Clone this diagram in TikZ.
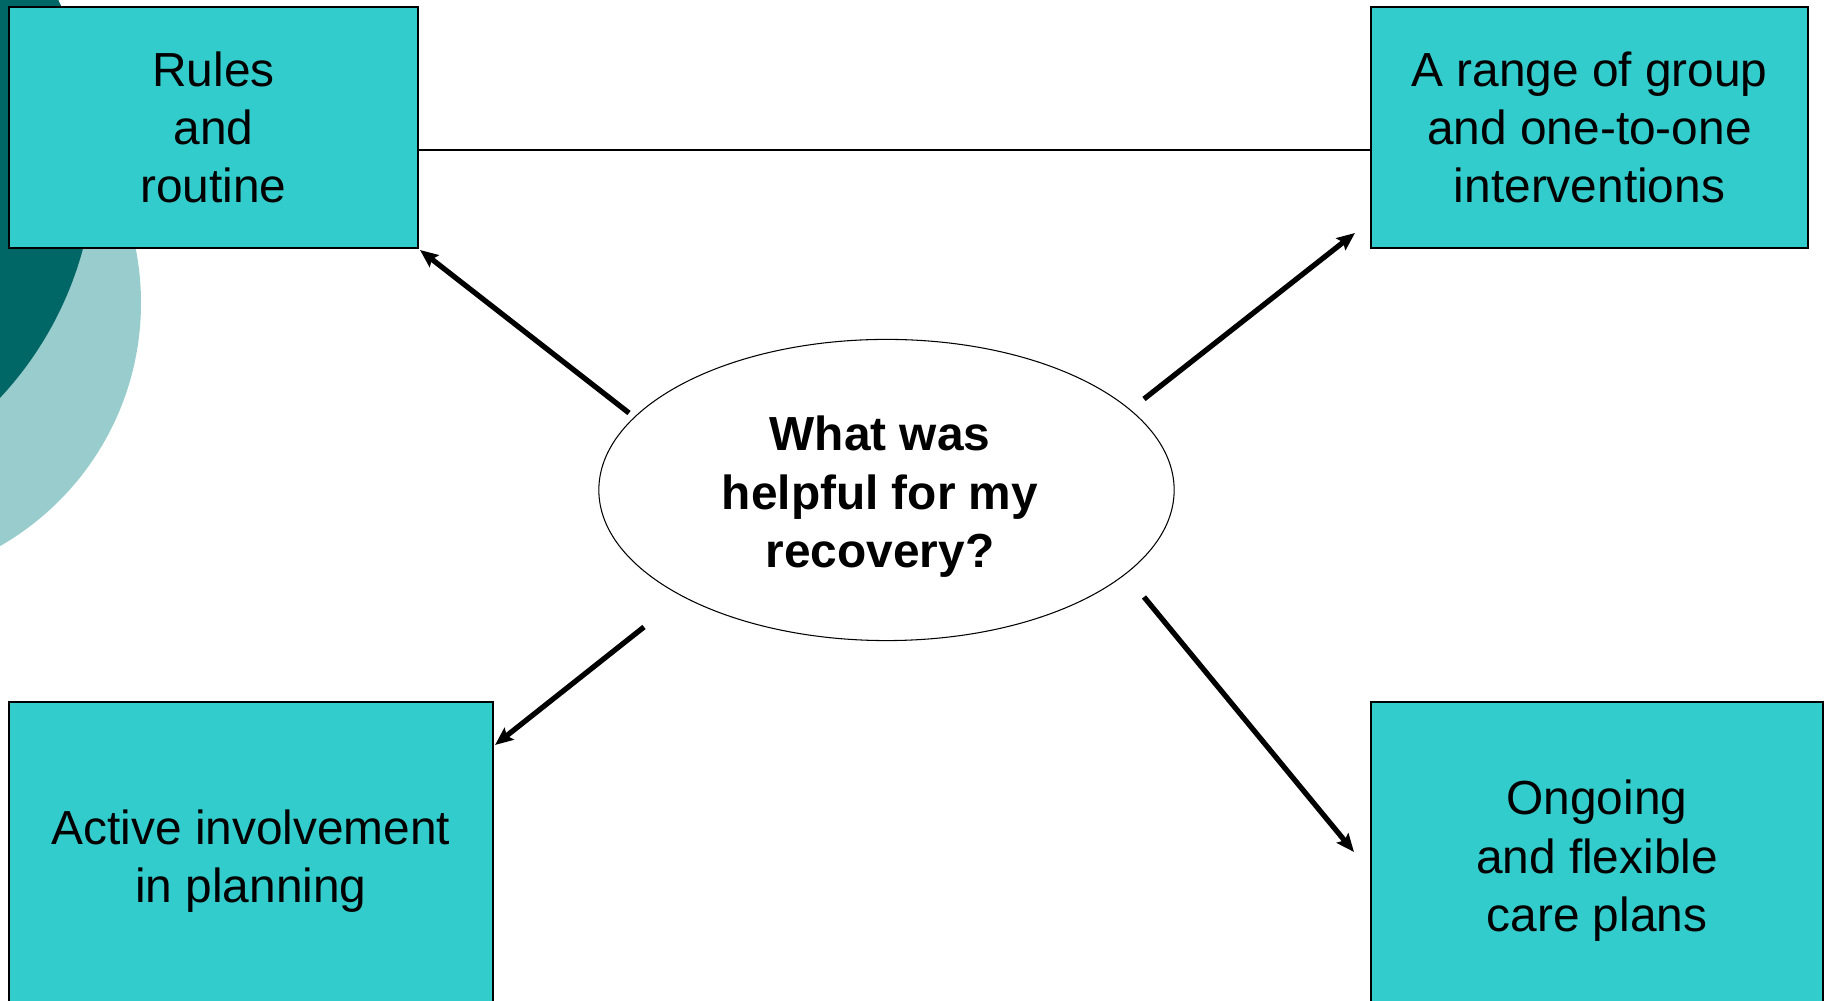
\documentclass[tikz,border=0pt]{standalone}
\usepackage{fontspec}
\setmainfont{Liberation Sans}
\usetikzlibrary{arrows.meta}
\usetikzlibrary{shapes.geometric}
\definecolor{boxteal}{HTML}{33CCCC}
\definecolor{darkteal}{HTML}{006666}
\definecolor{paleteal}{HTML}{99CCCC}

\begin{document}
\begin{tikzpicture}[x=0.01cm, y=-0.01cm,
	topic/.style={draw, line width=0.4pt, fill=boxteal, align=center, inner sep=0pt, font=\fontsize{13.6}{16.6}\selectfont},
	hub/.style={draw, ellipse, line width=0.3pt, fill=white, inner sep=0pt, minimum width=5.75cm, minimum height=3.01cm},
	hubtext/.style={align=center, inner sep=0pt, font=\bfseries\fontsize{13.6}{16.6}\selectfont},
	arr/.style={line width=1.5pt, -{Stealth[length=0.18cm,width=0.15cm,inset=0.03cm]}}]
	\useasboundingbox (0,0) rectangle (1829,1001);
	\clip (0,0) rectangle (1829,1001);
	\fill[paleteal] (-139,303) circle (280);
	\fill[darkteal] (-258,157) circle (353);
	\node[topic, minimum width=4.09cm, minimum height=2.41cm] (rules) at (213.5,127.5) {Rules\\and\\routine};
	\node[topic, minimum width=4.37cm, minimum height=2.41cm] (groups) at (1589.5,127.5) {A range of group\\and one-to-one\\interventions};
	\node[topic, minimum width=4.84cm, minimum height=3.18cm] (involve) at (251,861) {Active involvement\\in planning};
	\node[topic, minimum width=4.52cm, minimum height=3.18cm] (plans) at (1597,861) {Ongoing\\and flexible\\care plans};
	\node[hub] (help) at (886.5,490) {};
	\node[hubtext] (helptext) at (880,497) {What was\\helpful for my\\recovery?};
	\draw[line width=0.5pt] (rules.east |- 0,150) -- (groups.west |- 0,150);
	\coordinate (s1) at (629,413);
	\coordinate (s2) at (1144,399);
	\coordinate (s3) at (644,627);
	\coordinate (s4) at (1144,597);
	\coordinate (t1) at (420,250);
	\coordinate (t2) at (1355,233);
	\coordinate (t3) at (495,745);
	\coordinate (t4) at (1354,852);
	\draw[arr] (s1) -- (t1);
	\draw[arr] (s2) -- (t2);
	\draw[arr] (s3) -- (t3);
	\draw[arr] (s4) -- (t4);
\end{tikzpicture}
\end{document}
